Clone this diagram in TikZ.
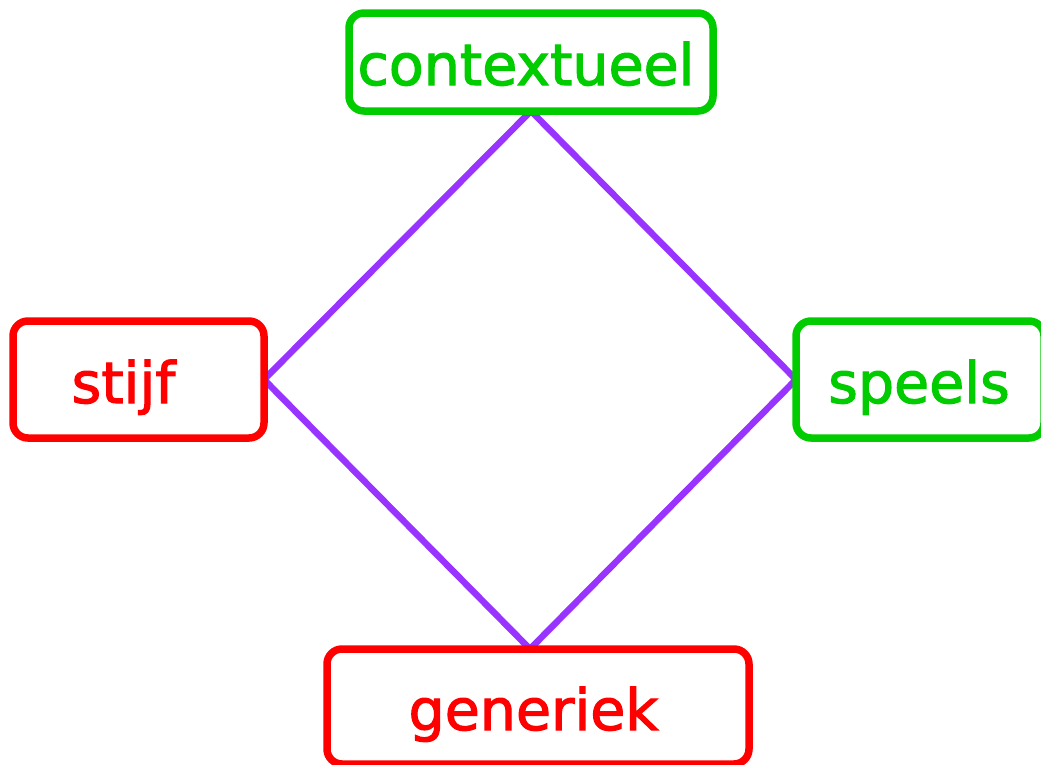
\documentclass[tikz,border=0pt]{standalone}
\usepackage{fontspec}
\setmainfont{DejaVu Sans}
\newfontfamily\labelfont[FakeBold=2]{DejaVu Sans}
\definecolor{boxgreen}{RGB}{0,204,0}
\definecolor{boxred}{RGB}{255,0,0}
\definecolor{linkpurple}{RGB}{153,51,255}
\tikzset{
  card/.style={draw=#1, line width=7.5pt, rounded corners=15pt, fill=white,
    inner sep=0pt, outer sep=0pt},
  slot/.style={inner sep=0pt, outer sep=0pt},
  caption/.style={text=#1, inner sep=0pt, anchor=base,
    font=\labelfont\fontsize{57}{60}\selectfont},
  link/.style={draw=linkpurple, line width=6.5pt},
}
\begin{document}
\begin{tikzpicture}[x=1pt,y=-1pt]
  \useasboundingbox (0,0) rectangle (1041,764);
  % places of the four frames
  \node[slot, minimum width=364pt, minimum height=98pt] (ctx) at (531,62) {};
  \node[slot, minimum width=251pt, minimum height=117pt] (stijf) at (138.5,379.5) {};
  \node[slot, minimum width=248pt, minimum height=117pt] (speels) at (920,379.5) {};
  \node[slot, minimum width=422pt, minimum height=115pt] (gen) at (538,706.5) {};
  % the diamond joining the four frames
  \draw[link] (ctx.south) -- (stijf.east) -- ([xshift=-8pt]gen.north)
    -- (speels.west) -- cycle;
  % the frames themselves, drawn over the diamond
  \node[card=boxgreen, minimum width=364pt, minimum height=98pt] (ctxbox) at (ctx) {};
  \node[card=boxred, minimum width=251pt, minimum height=117pt] (stijfbox) at (stijf) {};
  \node[card=boxgreen, minimum width=248pt, minimum height=117pt] (speelsbox) at (speels) {};
  \node[card=boxred, minimum width=422pt, minimum height=115pt] (genbox) at (gen) {};
  % labels
  \node[caption=boxgreen] (ctxlabel) at (526,85) {contextueel};
  \node[caption=boxred] (stijflabel) at (123.5,403) {stijf};
  \node[caption=boxgreen] (speelslabel) at (919,403) {speels};
  \node[caption=boxred] (genlabel) at (533.5,730) {generiek};
\end{tikzpicture}
\end{document}
